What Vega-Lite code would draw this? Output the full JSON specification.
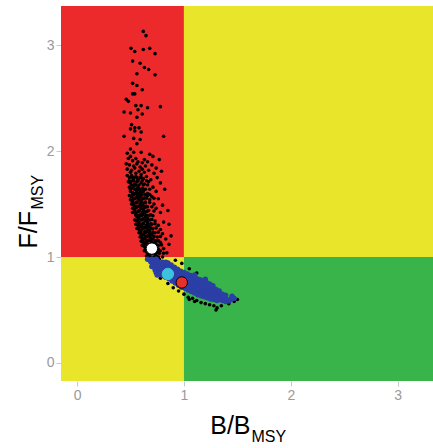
{
"$schema":"https://vega.github.io/schema/vega-lite/v6.json",
"width":372,"height":375,"autosize":"none",
"padding":{"left":61,"top":6,"right":0,"bottom":67},
"background":"white",
"config":{"view":{"stroke":null},"font":"Liberation Sans"},
"datasets":{
"bg":[{"x1":-0.15,"x2":1,"y1":1,"y2":3.37,"z":"r"},{"x1":1,"x2":3.33,"y1":1,"y2":3.37,"z":"y"},{"x1":-0.15,"x2":1,"y1":-0.17,"y2":1,"z":"y"},{"x1":1,"x2":3.33,"y1":-0.17,"y2":1,"z":"g"}],
"blk":[
{"b":0.62,"f":3.13},{"b":0.645,"f":3.09},{"b":0.505,"f":2.97},{"b":0.54,"f":2.94},{"b":0.62,"f":2.96},{"b":0.68,"f":2.97},{"b":0.73,"f":2.92},{"b":0.52,"f":2.85},{"b":0.59,"f":2.83},{"b":0.63,"f":2.79},{"b":0.67,"f":2.77},{"b":0.56,"f":2.73},{"b":0.73,"f":2.72},{"b":0.52,"f":2.64},{"b":0.56,"f":2.62},{"b":0.61,"f":2.58},{"b":0.52,"f":2.54},{"b":0.54,"f":2.54},{"b":0.46,"f":2.49},{"b":0.48,"f":2.47},{"b":0.55,"f":2.43},{"b":0.60,"f":2.43},{"b":0.57,"f":2.39},{"b":0.66,"f":2.41},{"b":0.78,"f":2.42},{"b":0.44,"f":2.37},{"b":0.50,"f":2.36},{"b":0.61,"f":2.35},{"b":0.56,"f":2.32},{"b":0.51,"f":2.25},{"b":0.54,"f":2.22},{"b":0.58,"f":2.22},{"b":0.50,"f":2.21},{"b":0.54,"f":2.19},{"b":0.60,"f":2.18},{"b":0.44,"f":2.14},{"b":0.53,"f":2.12},{"b":0.59,"f":2.11},{"b":0.81,"f":2.14},{"b":0.56,"f":2.07},{"b":0.50,"f":2.02},{"b":0.47,"f":1.98},{"b":0.53,"f":1.99},{"b":0.60,"f":1.99},{"b":0.68,"f":1.97},{"b":0.71,"f":1.95},{"b":0.50,"f":1.95},{"b":0.46,"f":1.88},{"b":0.61,"f":1.89},{"b":0.77,"f":1.92},
{"b":0.48,"f":1.93},{"b":0.52,"f":1.91},{"b":0.55,"f":1.93},{"b":0.57,"f":1.90},{"b":0.63,"f":1.92},{"b":0.66,"f":1.90},{"b":0.49,"f":1.87},{"b":0.53,"f":1.86},{"b":0.56,"f":1.88},{"b":0.59,"f":1.85},{"b":0.64,"f":1.86},{"b":0.70,"f":1.87},{"b":0.74,"f":1.84},{"b":0.47,"f":1.83},{"b":0.51,"f":1.82},{"b":0.54,"f":1.84},{"b":0.58,"f":1.81},{"b":0.61,"f":1.83},{"b":0.67,"f":1.82},{"b":0.50,"f":1.80},{"b":0.55,"f":1.79},{"b":0.60,"f":1.78},{"b":0.63,"f":1.80},{"b":0.72,"f":1.79},{"b":0.79,"f":1.81},
{"b":0.47,"f":1.77},{"b":0.49,"f":1.75},{"b":0.51,"f":1.77},{"b":0.53,"f":1.74},{"b":0.55,"f":1.76},{"b":0.57,"f":1.73},{"b":0.59,"f":1.75},{"b":0.62,"f":1.74},{"b":0.65,"f":1.76},{"b":0.69,"f":1.73},{"b":0.75,"f":1.75},{"b":0.48,"f":1.71},{"b":0.50,"f":1.70},{"b":0.52,"f":1.72},{"b":0.54,"f":1.69},{"b":0.56,"f":1.71},{"b":0.58,"f":1.68},{"b":0.60,"f":1.70},{"b":0.63,"f":1.69},{"b":0.67,"f":1.71},{"b":0.78,"f":1.70},{"b":0.49,"f":1.66},{"b":0.51,"f":1.65},{"b":0.53,"f":1.67},{"b":0.55,"f":1.64},{"b":0.57,"f":1.66},{"b":0.59,"f":1.63},{"b":0.61,"f":1.65},{"b":0.64,"f":1.64},{"b":0.71,"f":1.66},{"b":0.50,"f":1.62},{"b":0.52,"f":1.61},{"b":0.54,"f":1.60},{"b":0.56,"f":1.62},{"b":0.58,"f":1.60},{"b":0.60,"f":1.61},{"b":0.62,"f":1.62},{"b":0.66,"f":1.60},{"b":0.74,"f":1.62},{"b":0.82,"f":1.64},
{"b":0.49,"f":1.58},{"b":0.51,"f":1.57},{"b":0.53,"f":1.59},{"b":0.55,"f":1.56},{"b":0.57,"f":1.58},{"b":0.59,"f":1.57},{"b":0.61,"f":1.59},{"b":0.63,"f":1.56},{"b":0.66,"f":1.58},{"b":0.70,"f":1.57},{"b":0.50,"f":1.54},{"b":0.52,"f":1.53},{"b":0.54,"f":1.55},{"b":0.56,"f":1.52},{"b":0.58,"f":1.54},{"b":0.60,"f":1.53},{"b":0.62,"f":1.55},{"b":0.64,"f":1.52},{"b":0.68,"f":1.54},{"b":0.76,"f":1.55},{"b":0.51,"f":1.50},{"b":0.53,"f":1.49},{"b":0.55,"f":1.51},{"b":0.57,"f":1.48},{"b":0.59,"f":1.50},{"b":0.61,"f":1.49},{"b":0.63,"f":1.51},{"b":0.65,"f":1.48},{"b":0.72,"f":1.50},{"b":0.80,"f":1.49},{"b":0.52,"f":1.46},{"b":0.54,"f":1.45},{"b":0.56,"f":1.47},{"b":0.58,"f":1.44},{"b":0.60,"f":1.46},{"b":0.62,"f":1.45},{"b":0.64,"f":1.47},{"b":0.67,"f":1.44},{"b":0.74,"f":1.46},{"b":0.52,"f":1.42},{"b":0.55,"f":1.41},{"b":0.57,"f":1.43},{"b":0.59,"f":1.40},{"b":0.61,"f":1.42},{"b":0.63,"f":1.41},{"b":0.65,"f":1.43},{"b":0.69,"f":1.40},{"b":0.78,"f":1.42},{"b":0.85,"f":1.44},{"b":0.56,"f":1.38},{"b":0.58,"f":1.37},{"b":0.60,"f":1.39},{"b":0.62,"f":1.36},{"b":0.64,"f":1.38},{"b":0.66,"f":1.37},{"b":0.71,"f":1.39},
{"b":0.54,"f":1.35},{"b":0.56,"f":1.34},{"b":0.58,"f":1.33},{"b":0.60,"f":1.35},{"b":0.62,"f":1.32},{"b":0.64,"f":1.34},{"b":0.66,"f":1.33},{"b":0.68,"f":1.35},{"b":0.73,"f":1.34},{"b":0.81,"f":1.33},{"b":0.55,"f":1.31},{"b":0.57,"f":1.30},{"b":0.59,"f":1.29},{"b":0.61,"f":1.31},{"b":0.63,"f":1.28},{"b":0.65,"f":1.30},{"b":0.67,"f":1.29},{"b":0.70,"f":1.31},{"b":0.76,"f":1.30},{"b":0.86,"f":1.31},{"b":0.56,"f":1.27},{"b":0.58,"f":1.26},{"b":0.60,"f":1.25},{"b":0.62,"f":1.27},{"b":0.64,"f":1.24},{"b":0.66,"f":1.26},{"b":0.68,"f":1.25},{"b":0.71,"f":1.27},{"b":0.78,"f":1.26},{"b":0.58,"f":1.23},{"b":0.60,"f":1.22},{"b":0.62,"f":1.21},{"b":0.64,"f":1.23},{"b":0.66,"f":1.20},{"b":0.68,"f":1.22},{"b":0.70,"f":1.21},{"b":0.73,"f":1.23},{"b":0.80,"f":1.22},{"b":0.88,"f":1.20},{"b":0.59,"f":1.19},{"b":0.61,"f":1.18},{"b":0.63,"f":1.17},{"b":0.65,"f":1.19},{"b":0.67,"f":1.16},{"b":0.69,"f":1.18},{"b":0.71,"f":1.17},{"b":0.75,"f":1.19},{"b":0.83,"f":1.17},
{"b":0.60,"f":1.15},{"b":0.62,"f":1.14},{"b":0.64,"f":1.13},{"b":0.66,"f":1.15},{"b":0.68,"f":1.12},{"b":0.70,"f":1.14},{"b":0.72,"f":1.13},{"b":0.74,"f":1.15},{"b":0.78,"f":1.14},{"b":0.86,"f":1.12},{"b":0.61,"f":1.11},{"b":0.63,"f":1.10},{"b":0.65,"f":1.09},{"b":0.67,"f":1.11},{"b":0.69,"f":1.08},{"b":0.71,"f":1.10},{"b":0.73,"f":1.09},{"b":0.76,"f":1.11},{"b":0.81,"f":1.08},{"b":0.63,"f":1.06},{"b":0.65,"f":1.05},{"b":0.67,"f":1.07},{"b":0.69,"f":1.04},{"b":0.71,"f":1.06},{"b":0.73,"f":1.03},{"b":0.75,"f":1.05},{"b":0.78,"f":1.06},{"b":0.84,"f":1.04},{"b":0.65,"f":1.01},{"b":0.67,"f":1.02},{"b":0.69,"f":1.00},{"b":0.71,"f":0.99},{"b":0.74,"f":1.01},{"b":0.77,"f":0.98},{"b":0.80,"f":1.00},{"b":0.67,"f":0.97},{"b":0.69,"f":0.96},{"b":0.72,"f":0.95},{"b":0.70,"f":0.93},
{"b":0.52,"f":1.75},{"b":0.56,"f":1.75},{"b":0.60,"f":1.75},{"b":0.49,"f":1.72},{"b":0.53,"f":1.72},{"b":0.57,"f":1.72},{"b":0.61,"f":1.72},{"b":0.65,"f":1.72},{"b":0.51,"f":1.68},{"b":0.55,"f":1.68},{"b":0.62,"f":1.68},{"b":0.66,"f":1.68},{"b":0.50,"f":1.64},{"b":0.54,"f":1.64},{"b":0.58,"f":1.64},{"b":0.62,"f":1.64},{"b":0.68,"f":1.64},{"b":0.52,"f":1.59},{"b":0.56,"f":1.59},{"b":0.60,"f":1.59},{"b":0.64,"f":1.59},{"b":0.68,"f":1.59},{"b":0.53,"f":1.555},{"b":0.57,"f":1.555},{"b":0.61,"f":1.555},{"b":0.65,"f":1.555},{"b":0.72,"f":1.555},{"b":0.52,"f":1.515},{"b":0.56,"f":1.515},{"b":0.60,"f":1.515},{"b":0.64,"f":1.515},{"b":0.68,"f":1.515},{"b":0.55,"f":1.475},{"b":0.59,"f":1.475},{"b":0.63,"f":1.475},{"b":0.66,"f":1.475},{"b":0.70,"f":1.475},{"b":0.54,"f":1.435},{"b":0.58,"f":1.435},{"b":0.62,"f":1.435},{"b":0.66,"f":1.435},{"b":0.72,"f":1.435},{"b":0.55,"f":1.395},{"b":0.57,"f":1.395},{"b":0.61,"f":1.395},{"b":0.65,"f":1.395},{"b":0.68,"f":1.395},{"b":0.57,"f":1.355},{"b":0.61,"f":1.355},{"b":0.65,"f":1.355},{"b":0.70,"f":1.355},{"b":0.58,"f":1.315},{"b":0.62,"f":1.315},{"b":0.66,"f":1.315},{"b":0.69,"f":1.315},{"b":0.73,"f":1.315},{"b":0.57,"f":1.275},{"b":0.61,"f":1.275},{"b":0.65,"f":1.275},{"b":0.69,"f":1.275},{"b":0.74,"f":1.275},{"b":0.59,"f":1.235},{"b":0.63,"f":1.235},{"b":0.67,"f":1.235},{"b":0.71,"f":1.235},{"b":0.76,"f":1.235},{"b":0.60,"f":1.195},{"b":0.64,"f":1.195},{"b":0.68,"f":1.195},{"b":0.72,"f":1.195},{"b":0.78,"f":1.195},{"b":0.61,"f":1.155},{"b":0.65,"f":1.155},{"b":0.69,"f":1.155},{"b":0.73,"f":1.155},{"b":0.76,"f":1.155},{"b":0.62,"f":1.115},{"b":0.66,"f":1.115},{"b":0.70,"f":1.115},{"b":0.74,"f":1.115},{"b":0.79,"f":1.115},{"b":0.64,"f":1.075},{"b":0.68,"f":1.075},{"b":0.72,"f":1.075},{"b":0.76,"f":1.075},{"b":0.66,"f":1.035},{"b":0.70,"f":1.035},{"b":0.74,"f":1.035},{"b":0.77,"f":1.035},{"b":0.81,"f":1.035},{"b":0.68,"f":1.0},{"b":0.72,"f":1.0},{"b":0.76,"f":1.0},{"b":0.70,"f":0.98},{"b":0.74,"f":0.98},
{"b":0.78,"f":0.80},{"b":0.85,"f":0.75},{"b":0.90,"f":0.71},{"b":0.95,"f":0.68},{"b":1.00,"f":0.65},{"b":1.04,"f":0.62},{"b":1.08,"f":0.61},{"b":1.12,"f":0.59},{"b":1.16,"f":0.57},{"b":1.20,"f":0.56},{"b":1.24,"f":0.55},{"b":1.28,"f":0.54},{"b":1.31,"f":0.52},{"b":1.30,"f":0.50},{"b":1.35,"f":0.54},{"b":1.42,"f":0.56},{"b":1.47,"f":0.58},{"b":1.50,"f":0.60},{"b":1.10,"f":0.58},{"b":1.05,"f":0.60},{"b":0.92,"f":0.97},{"b":1.05,"f":0.89},{"b":1.12,"f":0.85},{"b":0.98,"f":0.94}
],
"blu":[
{"b":0.70,"f":0.91},{"b":0.71,"f":0.935},{"b":0.69,"f":0.955},{"b":0.70,"f":0.98},
{"b":0.73,"f":0.88},{"b":0.74,"f":0.905},{"b":0.72,"f":0.93},{"b":0.73,"f":0.955},{"b":0.74,"f":0.98},
{"b":0.76,"f":0.865},{"b":0.75,"f":0.89},{"b":0.77,"f":0.915},{"b":0.76,"f":0.94},{"b":0.75,"f":0.965},
{"b":0.79,"f":0.85},{"b":0.80,"f":0.875},{"b":0.78,"f":0.90},{"b":0.79,"f":0.925},{"b":0.80,"f":0.95},
{"b":0.82,"f":0.835},{"b":0.81,"f":0.86},{"b":0.83,"f":0.885},{"b":0.82,"f":0.91},{"b":0.81,"f":0.935},
{"b":0.85,"f":0.815},{"b":0.86,"f":0.845},{"b":0.84,"f":0.87},{"b":0.85,"f":0.895},{"b":0.86,"f":0.925},
{"b":0.88,"f":0.795},{"b":0.87,"f":0.825},{"b":0.89,"f":0.85},{"b":0.88,"f":0.875},{"b":0.87,"f":0.905},
{"b":0.91,"f":0.775},{"b":0.92,"f":0.805},{"b":0.90,"f":0.83},{"b":0.91,"f":0.855},{"b":0.92,"f":0.885},
{"b":0.94,"f":0.755},{"b":0.93,"f":0.785},{"b":0.95,"f":0.81},{"b":0.94,"f":0.835},{"b":0.93,"f":0.865},
{"b":0.97,"f":0.735},{"b":0.98,"f":0.765},{"b":0.96,"f":0.79},{"b":0.97,"f":0.815},{"b":0.98,"f":0.845},
{"b":1.00,"f":0.725},{"b":0.99,"f":0.755},{"b":1.01,"f":0.78},{"b":1.00,"f":0.805},{"b":0.99,"f":0.835},
{"b":1.03,"f":0.71},{"b":1.04,"f":0.74},{"b":1.02,"f":0.765},{"b":1.03,"f":0.79},{"b":1.04,"f":0.82},
{"b":1.06,"f":0.695},{"b":1.05,"f":0.725},{"b":1.07,"f":0.75},{"b":1.06,"f":0.775},{"b":1.05,"f":0.805},
{"b":1.09,"f":0.68},{"b":1.10,"f":0.71},{"b":1.08,"f":0.735},{"b":1.09,"f":0.76},{"b":1.10,"f":0.79},
{"b":1.12,"f":0.665},{"b":1.11,"f":0.695},{"b":1.13,"f":0.72},{"b":1.12,"f":0.745},{"b":1.11,"f":0.775},
{"b":1.15,"f":0.66},{"b":1.16,"f":0.685},{"b":1.14,"f":0.71},{"b":1.15,"f":0.735},{"b":1.16,"f":0.76},
{"b":1.18,"f":0.65},{"b":1.17,"f":0.675},{"b":1.19,"f":0.70},{"b":1.18,"f":0.725},{"b":1.17,"f":0.75},
{"b":1.21,"f":0.64},{"b":1.22,"f":0.665},{"b":1.20,"f":0.685},{"b":1.21,"f":0.71},{"b":1.22,"f":0.73},
{"b":1.24,"f":0.63},{"b":1.23,"f":0.65},{"b":1.25,"f":0.67},{"b":1.24,"f":0.695},{"b":1.23,"f":0.715},
{"b":1.27,"f":0.62},{"b":1.28,"f":0.64},{"b":1.26,"f":0.66},{"b":1.27,"f":0.685},{"b":1.28,"f":0.70},
{"b":1.30,"f":0.61},{"b":1.29,"f":0.63},{"b":1.31,"f":0.645},{"b":1.30,"f":0.67},
{"b":1.33,"f":0.60},{"b":1.34,"f":0.62},{"b":1.32,"f":0.635},{"b":1.33,"f":0.655},
{"b":1.36,"f":0.59},{"b":1.37,"f":0.61},{"b":1.35,"f":0.625},
{"b":1.39,"f":0.58},{"b":1.40,"f":0.60},{"b":1.38,"f":0.615},
{"b":1.42,"f":0.585},{"b":1.44,"f":0.60},
{"b":0.74,"f":0.855},{"b":0.77,"f":0.84},{"b":0.80,"f":0.825},{"b":0.83,"f":0.81},{"b":0.86,"f":0.795},{"b":0.89,"f":0.775},{"b":0.92,"f":0.755},{"b":0.95,"f":0.735},{"b":0.98,"f":0.715},{"b":1.01,"f":0.705},{"b":1.04,"f":0.69},{"b":1.07,"f":0.675},{"b":1.10,"f":0.66},{"b":1.13,"f":0.645},{"b":1.16,"f":0.635},{"b":1.19,"f":0.625},{"b":1.22,"f":0.615},{"b":1.25,"f":0.605},{"b":1.28,"f":0.60},{"b":1.31,"f":0.59},
{"b":0.85,"f":0.945},{"b":0.88,"f":0.925},{"b":0.91,"f":0.905},{"b":0.94,"f":0.885},{"b":0.97,"f":0.865},{"b":1.00,"f":0.855},{"b":1.03,"f":0.84},{"b":1.06,"f":0.825},{"b":1.09,"f":0.81},{"b":1.12,"f":0.795},{"b":1.15,"f":0.785},{"b":1.18,"f":0.775},{"b":1.21,"f":0.76},{"b":1.24,"f":0.745},{"b":1.27,"f":0.73},{"b":1.30,"f":0.695},{"b":1.33,"f":0.68},{"b":1.36,"f":0.65},{"b":1.39,"f":0.64},
{"b":0.66,"f":0.98},{"b":0.75,"f":0.83},{"b":0.83,"f":0.95},{"b":1.10,"f":0.83},{"b":1.20,"f":0.79},{"b":1.45,"f":0.63},{"b":1.47,"f":0.61}
],
"big":[{"b":0.70,"f":1.08,"k":"w"},{"b":0.85,"f":0.84,"k":"c"},{"b":0.98,"f":0.76,"k":"r"}]
},
"resolve":{"axis":{"x":"independent","y":"independent"}},
"layer":[
{"data":{"name":"bg"},"mark":{"type":"rect"},
 "encoding":{
  "x":{"field":"x1","type":"quantitative","scale":{"domain":[-0.15,3.33],"nice":false,"zero":false},
   "axis":{"orient":"bottom","title":"B/B","values":[0,1,2,3],"grid":false,"domain":false,"tickColor":"#c8c8c8","tickSize":5,"labelColor":"#9a9a9a","labelFont":"Liberation Sans","labelFontSize":14,"labelPadding":2,"titleFont":"Liberation Sans","titleFontSize":25,"titleFontWeight":"normal","titleColor":"#000000","titleX":189,"titleY":52,"titleAlign":"right","titleBaseline":"alphabetic"}},
  "x2":{"field":"x2"},
  "y":{"field":"y1","type":"quantitative","scale":{"domain":[-0.17,3.37],"nice":false,"zero":false},
   "axis":{"orient":"left","title":"F/F","values":[0,1,2,3],"grid":false,"domain":false,"tickColor":"#c8c8c8","tickSize":5,"labelColor":"#9a9a9a","labelFont":"Liberation Sans","labelFontSize":14,"labelPadding":2,"titleFont":"Liberation Sans","titleFontSize":25,"titleFontWeight":"normal","titleColor":"#000000","titleX":-25,"titleY":242,"titleAngle":-90,"titleAlign":"left","titleBaseline":"alphabetic"}},
  "y2":{"field":"y2"},
  "color":{"field":"z","type":"nominal","scale":{"domain":["r","y","g"],"range":["#ec2a2b","#e9e52b","#39b44b"]},"legend":null}
 }},
{"data":{"name":"blk"},"mark":{"type":"point","filled":true,"color":"#000000","opacity":1,"size":13},
 "encoding":{
  "x":{"field":"b","type":"quantitative","axis":{"orient":"bottom","title":"MSY","labels":false,"ticks":false,"domain":false,"grid":false,"titleFont":"Liberation Sans","titleFontSize":16,"titleFontWeight":"normal","titleColor":"#000000","titleX":190,"titleY":60,"titleAlign":"left","titleBaseline":"alphabetic"}},
  "y":{"field":"f","type":"quantitative","axis":{"orient":"left","title":"MSY","labels":false,"ticks":false,"domain":false,"grid":false,"titleFont":"Liberation Sans","titleFontSize":16,"titleFontWeight":"normal","titleColor":"#000000","titleX":-19,"titleY":203,"titleAngle":-90,"titleAlign":"left","titleBaseline":"alphabetic"}}
 }},
{"data":{"name":"blu"},"mark":{"type":"point","filled":true,"color":"#2b3fa6","opacity":1,"size":30},
 "encoding":{
  "x":{"field":"b","type":"quantitative","axis":null},
  "y":{"field":"f","type":"quantitative","axis":null}
 }},
{"data":{"name":"big"},"mark":{"type":"point","filled":true,"opacity":1,"size":130,"strokeWidth":1},
 "encoding":{
  "x":{"field":"b","type":"quantitative","axis":null},
  "y":{"field":"f","type":"quantitative","axis":null},
  "fill":{"field":"k","type":"nominal","scale":{"domain":["w","c","r"],"range":["#ffffff","#3ec2dc","#e8302a"]},"legend":null},
  "stroke":{"field":"k","type":"nominal","scale":{"domain":["w","c","r"],"range":["#000000","#3ec2dc","#000000"]},"legend":null}
 }}
]
}
